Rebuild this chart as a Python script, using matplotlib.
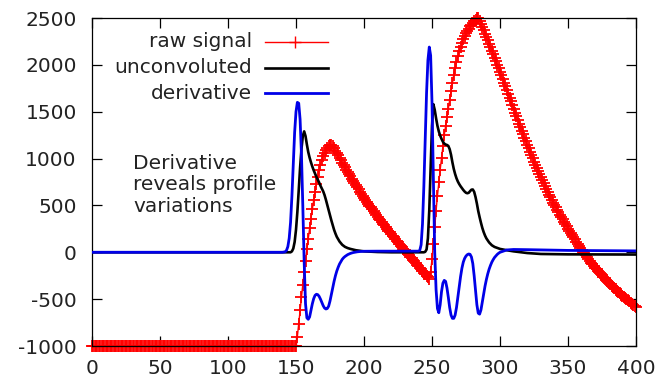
import numpy as np
import matplotlib
matplotlib.use('Agg')
import matplotlib.pyplot as plt

plt.rcParams['axes.unicode_minus'] = False

# raw signal: one sample per x unit, flat at -1000 until 150
raw_flat = -1000
raw_pulse = [  # x = 150 .. 400
    -1000, -900, -760, -620, -480, -345, -215, -90, 30, 145,
    255, 360, 460, 555, 645, 728, 805, 873, 933, 985,
    1028, 1063, 1092, 1114, 1130, 1140, 1145, 1130, 1108, 1083,
    1058, 1033, 1008, 983, 958, 933, 908, 883, 858, 834,
    810, 786, 762, 739, 716, 693, 670, 648, 626, 604,
    582, 561, 540, 519, 498, 478, 458, 438, 418, 398,
    379, 360, 341, 322, 304, 286, 268, 250, 232, 214,
    196, 178, 160, 142, 124, 106, 89, 72, 55, 38,
    21, 4, -13, -30, -47, -64, -81, -98, -115, -132,
    -149, -166, -183, -200, -217, -234, -251, -268, -285, -210,
    -70, 87, 265, 443, 603, 745, 880, 1005, 1130, 1250,
    1350, 1442, 1533, 1625, 1718, 1810, 1895, 1965, 2030, 2090,
    2145, 2192, 2235, 2272, 2305, 2335, 2362, 2387, 2410, 2430,
    2450, 2467, 2482, 2495, 2505, 2472, 2438, 2403, 2368, 2332,
    2296, 2260, 2224, 2188, 2152, 2115, 2078, 2041, 2003, 1965,
    1927, 1889, 1850, 1811, 1771, 1731, 1691, 1651, 1611, 1571,
    1531, 1491, 1452, 1413, 1374, 1335, 1297, 1259, 1221, 1183,
    1146, 1109, 1073, 1037, 1002, 967, 935, 903, 871, 839,
    807, 775, 743, 711, 679, 647, 616, 585, 558, 531,
    504, 478, 452, 426, 400, 375, 350, 325, 300, 276,
    252, 228, 205, 182, 159, 137, 115, 93, 71, 50,
    29, 8, -12, -32, -52, -71, -90, -109, -127, -145,
    -163, -180, -197, -214, -231, -247, -263, -279, -295, -310,
    -325, -340, -355, -369, -383, -397, -411, -425, -438, -451,
    -464, -477, -489, -501, -513, -525, -537, -548, -559, -570,
    -581,
]
raw_y = [raw_flat] * 150 + raw_pulse
raw_x = np.arange(len(raw_y))

# unconvoluted profile
unconv_x = ([0, 140] + list(range(146, 181))
            + [182, 184, 186, 188, 190, 194, 200, 210, 220, 244]
            + list(range(245, 291))
            + [292, 294, 296, 300, 305, 310, 320, 330, 350, 400])
unconv_y = ([0, 0]
            + [0, 10, 40, 110, 240, 430, 660, 900, 1100, 1240,
               1290, 1240, 1150, 1070, 1010, 960, 915, 875, 840, 805,
               775, 745, 710, 680, 650, 610, 560, 505, 450, 395,
               340, 290, 240, 200, 165]
            + [115, 80, 58, 45, 36, 22, 10, 3, 0, 0]
            + [5, 30, 150, 450, 900, 1350, 1580, 1520, 1430, 1350,
               1290, 1245, 1210, 1180, 1160, 1150, 1145, 1135, 1100, 1040,
               960, 890, 835, 790, 755, 728, 705, 685, 665, 648,
               635, 630, 635, 652, 668, 670, 645, 590, 520, 440,
               375, 315, 260, 215, 178, 148]
            + [105, 75, 57, 36, 22, 10, -8, -18, -22, -24])

# derivative
deriv_x = ([0, 140] + list(range(142, 201)) + [205, 210, 220, 230, 240]
           + list(range(241, 301)) + [305, 310, 320, 350, 400])
deriv_y = ([0, 0]
           + [5, 20, 60, 150, 320, 600, 950, 1280, 1500, 1600,
              1590, 1420, 1050, 500, -100, -550, -700, -715, -690, -620,
              -550, -495, -460, -448, -452, -470, -500, -535, -570, -595,
              -605, -600, -575, -520, -450, -380, -310, -250, -200, -160,
              -125, -100, -75, -58, -45, -35, -25, -18, -12, -7,
              -3, 0, 3, 5, 7, 8, 9, 10, 11]
           + [12, 12, 12, 12, 12]
           + [20, 80, 300, 700, 1200, 1700, 2050, 2190, 2100, 1600,
              800, 0, -400, -600, -645, -560, -420, -330, -300, -310,
              -380, -480, -590, -670, -705, -705, -670, -590, -480, -370,
              -260, -170, -105, -65, -40, -25, -18, -22, -50, -120,
              -250, -410, -560, -650, -660, -615, -530, -440, -360, -290,
              -230, -180, -140, -105, -78, -55, -38, -22, -10, 0]
           + [25, 30, 28, 20, 15])

x_ticks = [0, 50, 100, 150, 200, 250, 300, 350, 400]
y_ticks = [-1000, -500, 0, 500, 1000, 1500, 2000, 2500]
labels = ['raw signal', 'unconvoluted', 'derivative']
note = 'Derivative\nreveals profile\nvariations'

RED = '#ff0000'
BLUE = '#0000e8'
TXT = '#222222'
FS = 14.5

fig = plt.figure(figsize=(6.62, 3.81), dpi=100)
ax = fig.add_axes([92 / 662, 1 - 346 / 381, 544 / 662, 328 / 381])

ax.plot(raw_x, raw_y, color=RED, lw=1.0, marker='+', ms=8, mew=1.3,
        clip_on=False, zorder=2)
ax.plot(unconv_x, unconv_y, color='black', lw=1.9, zorder=3)
ax.plot(deriv_x, deriv_y, color=BLUE, lw=2.0, zorder=4)

ax.set_xlim(0, 400)
ax.set_ylim(-1000, 2500)
ax.set_xticks(x_ticks)
ax.set_yticks(y_ticks)
ax.tick_params(direction='in', length=7, width=0.9, top=True, right=True,
               labelsize=FS, labelcolor=TXT)
ax.tick_params(axis='y', pad=11)
ax.tick_params(axis='x', pad=9)
for s in ax.spines.values():
    s.set_linewidth(0.9)

# gnuplot style key: text right aligned, sample to the right
key_y = [0.927, 0.848, 0.771]
key_style = [dict(color=RED, lw=1.0), dict(color='black', lw=1.9),
             dict(color=BLUE, lw=2.0)]
for lab, yy, st in zip(labels, key_y, key_style):
    ax.text(0.294, yy, lab, transform=ax.transAxes, ha='right', va='center',
            fontsize=FS, color=TXT)
    ax.plot([0.318, 0.434], [yy, yy], transform=ax.transAxes, clip_on=False,
            **st)
ax.plot([0.374], [key_y[0]], transform=ax.transAxes, color=RED, marker='+',
        ms=8, mew=1.0, clip_on=False)

ax.text(0.076, 0.491, note, transform=ax.transAxes, ha='left', va='center',
        fontsize=FS, color=TXT, linespacing=1.15)

fig.savefig('out.png', dpi=100)
